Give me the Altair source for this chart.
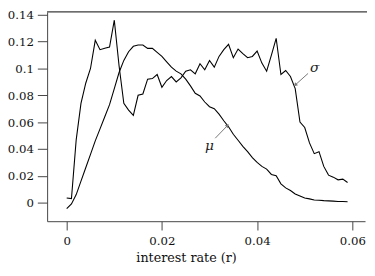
import altair as alt
import pandas as pd

r_vals = [round(i * 0.001, 3) for i in range(60)]

sigma = [0.0035, 0.003, 0.047, 0.074, 0.089, 0.100, 0.121, 0.114, 0.115, 0.116,
         0.136, 0.102, 0.074, 0.069, 0.065, 0.080, 0.081, 0.092, 0.0925, 0.0955,
         0.086, 0.091, 0.094, 0.090, 0.093, 0.098, 0.099, 0.096, 0.1035, 0.099,
         0.106, 0.101, 0.109, 0.114, 0.118, 0.108, 0.1145, 0.111, 0.108, 0.109,
         0.113, 0.104, 0.098, 0.110, 0.1225, 0.0955, 0.0985, 0.094, 0.085, 0.060,
         0.056, 0.0445, 0.0365, 0.038, 0.027, 0.0205, 0.019, 0.017, 0.0175, 0.015]

mu = [-0.0045, -0.001, 0.006, 0.016, 0.026, 0.036, 0.046, 0.055, 0.064, 0.073,
      0.085, 0.097, 0.106, 0.1125, 0.1165, 0.1175, 0.1175, 0.115, 0.115, 0.112,
      0.109, 0.105, 0.101, 0.098, 0.096, 0.092, 0.087, 0.0815, 0.0795, 0.075,
      0.0715, 0.070, 0.066, 0.061, 0.0565, 0.051, 0.0465, 0.042, 0.038, 0.0335,
      0.030, 0.027, 0.025, 0.021, 0.020, 0.014, 0.011, 0.009, 0.0065, 0.005,
      0.0035, 0.0028, 0.002, 0.0018, 0.0015, 0.0013, 0.0011, 0.0009, 0.0008, 0.0007]

x_ticks = [0, 0.02, 0.04, 0.06]
y_ticks = [0, 0.02, 0.04, 0.06, 0.08, 0.1, 0.12, 0.14]

# annotations: label position, arrow start, arrow end
ann_labels = ["σ", "μ"]
ann_text_r = [0.0521, 0.0300]
ann_text_v = [0.1005, 0.0425]
ann_from_r = [0.0507, 0.0312]
ann_from_v = [0.0963, 0.0480]
ann_to_r = [0.0481, 0.0337]
ann_to_v = [0.0880, 0.0572]
ann_angle = [225, 45]

FONT = "DejaVu Serif"
FS = 12
x_dom = [-0.00411, 0.06267]
y_dom = [-0.01385, 0.1422]

rows = []
for r, s, m in zip(r_vals, sigma, mu):
    rows.append({"r": r, "v": s, "series": "sigma"})
    rows.append({"r": r, "v": m, "series": "mu"})
df = pd.DataFrame(rows)

ann = pd.DataFrame({
    "label": ann_labels, "tr": ann_text_r, "tv": ann_text_v,
    "r": ann_from_r, "v": ann_from_v, "er": ann_to_r, "ev": ann_to_v,
    "angle": ann_angle,
})

xs = alt.Scale(domain=x_dom, nice=False, zero=False)
ys = alt.Scale(domain=y_dom, nice=False, zero=False)

AX = dict(labelFont=FONT, titleFont=FONT, labelFontSize=FS, titleFontSize=FS + 1,
          labelColor="#111111", titleColor="#111111", titleFontWeight="normal",
          domainColor="#444444", tickColor="#444444", domainWidth=1, tickWidth=1,
          labelOverlap=False, grid=False, format="~g")
x_axis = alt.Axis(values=x_ticks, tickSize=9, labelPadding=6, titlePadding=5,
                  titleX=142, **AX)
y_axis = alt.Axis(values=y_ticks, tickSize=10, labelPadding=4, **AX)
X_TITLE = "interest rate (r)"


def X(field):
    return alt.X(field, type="quantitative", scale=xs, axis=x_axis, title=X_TITLE)


def Y(field):
    return alt.Y(field, type="quantitative", scale=ys, axis=y_axis, title=None)


lines = alt.Chart(df).mark_line(color="black", strokeWidth=1.1).encode(
    x=X("r"), y=Y("v"), detail="series:N",
)

shafts = alt.Chart(ann).mark_rule(color="#777777", strokeWidth=1).encode(
    x=X("r"), y=Y("v"), x2="er:Q", y2="ev:Q",
)

heads = alt.Chart(ann).mark_point(shape="triangle", filled=True, color="#777777",
                                  size=18, opacity=1).encode(
    x=X("er"), y=Y("ev"), angle=alt.Angle("angle:Q", scale=None),
)

texts = alt.Chart(ann).mark_text(font=FONT, fontSize=FS + 2, fontStyle="italic",
                                 color="#222222").encode(
    x=X("tr"), y=Y("tv"), text="label:N",
)

top_line = alt.Chart(ann).mark_rule(color="#555555", strokeWidth=1).encode(
    x=alt.value(0), x2=alt.value(330), y=alt.value(0),
)

chart = alt.layer(lines, shafts, heads, texts, top_line).properties(
    width=325, height=214,
    autosize=alt.AutoSizeParams(type="none"),
    padding={"left": 40, "top": 1, "right": 2, "bottom": 50},
).configure_view(stroke=None)

chart.save("out.html", embed_options={"renderer": "svg", "actions": False})
